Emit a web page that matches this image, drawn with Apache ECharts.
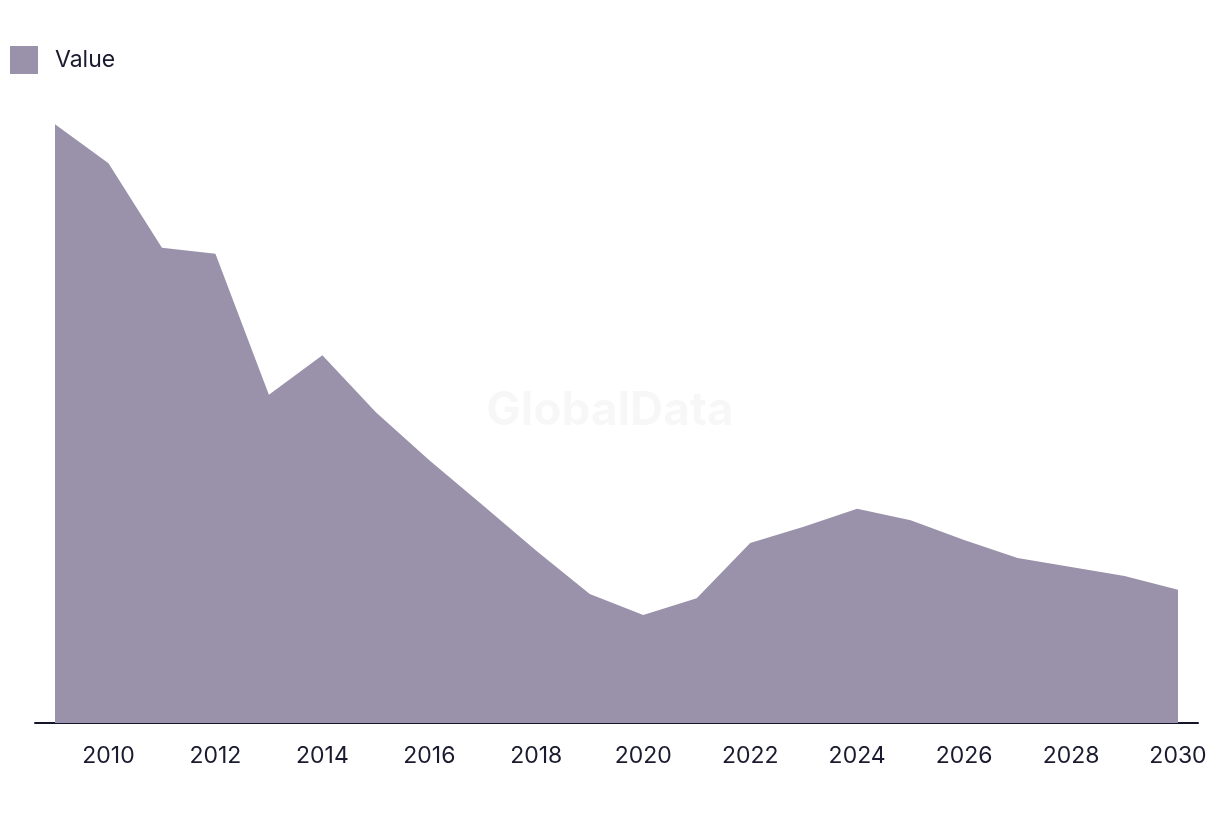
<!DOCTYPE html>
<html><head><meta charset="utf-8">
<script src="https://cdn.jsdelivr.net/npm/echarts@6/dist/echarts.min.js"></script>
<style>html,body{margin:0;padding:0;background:#fff}#c{width:1220px;height:816px}</style>
</head><body><div id="c"></div>
<script>
const years = [2009,2010,2011,2012,2013,2014,2015,2016,2017,2018,2019,2020,2021,2022,2023,2024,2025,2026,2027,2028,2029,2030];
const values = [99.8,93.3,79.2,78.2,54.7,61.3,51.8,43.8,36.3,28.7,21.5,18.0,20.8,30.0,32.7,35.7,33.8,30.5,27.5,26.0,24.5,22.2];
const tickYears = [2010,2012,2014,2016,2018,2020,2022,2024,2026,2028,2030];
const seriesName = 'Value';

const chart = echarts.init(document.getElementById('c'), null, {renderer:'canvas'});
chart.setOption({
  animation:false,
  textStyle:{fontFamily:'Inter, "Noto Sans", sans-serif'},
  legend:{
    left:10, top:46, padding:0, itemWidth:28, itemHeight:28, itemGap:10,
    icon:'rect',
    formatter:n=>'{t|'+n+'}',
    textStyle:{fontSize:23, color:'#1b1b2f', rich:{t:{fontSize:23, color:'#1b1b2f', padding:[0,0,0,12]}}},
    data:[seriesName]
  },
  graphic:[{
    type:'text', left:'center', top:388, silent:true,
    style:{text:'GlobalData', fontSize:46, fontWeight:'bold', fill:'rgba(0,0,0,0.03)', fontFamily:'Inter, sans-serif'}
  }],
  grid:{left:35, right:22, top:123, bottom:93, containLabel:false},
  xAxis:{
    type:'value',
    min:2008.626, max:2030.374,
    axisLine:{show:true, lineStyle:{color:'#14142a', width:2}},
    axisTick:{show:false},
    splitLine:{show:false},
    axisLabel:{
      customValues:tickYears,
      formatter:v=>String(v),
      fontSize:23, color:'#1b1b2f', margin:22
    }
  },
  yAxis:{
    type:'value', min:0, max:100,
    show:false, splitLine:{show:false}
  },
  series:[{
    name:seriesName, type:'line',
    data:years.map((y,i)=>[y,values[i]]),
    showSymbol:false, symbol:'none',
    lineStyle:{width:0, color:'#9a91ab'},
    itemStyle:{color:'#9a91ab'},
    areaStyle:{color:'#9a91ab', opacity:1},
    z:1
  }]
});
</script></body></html>
